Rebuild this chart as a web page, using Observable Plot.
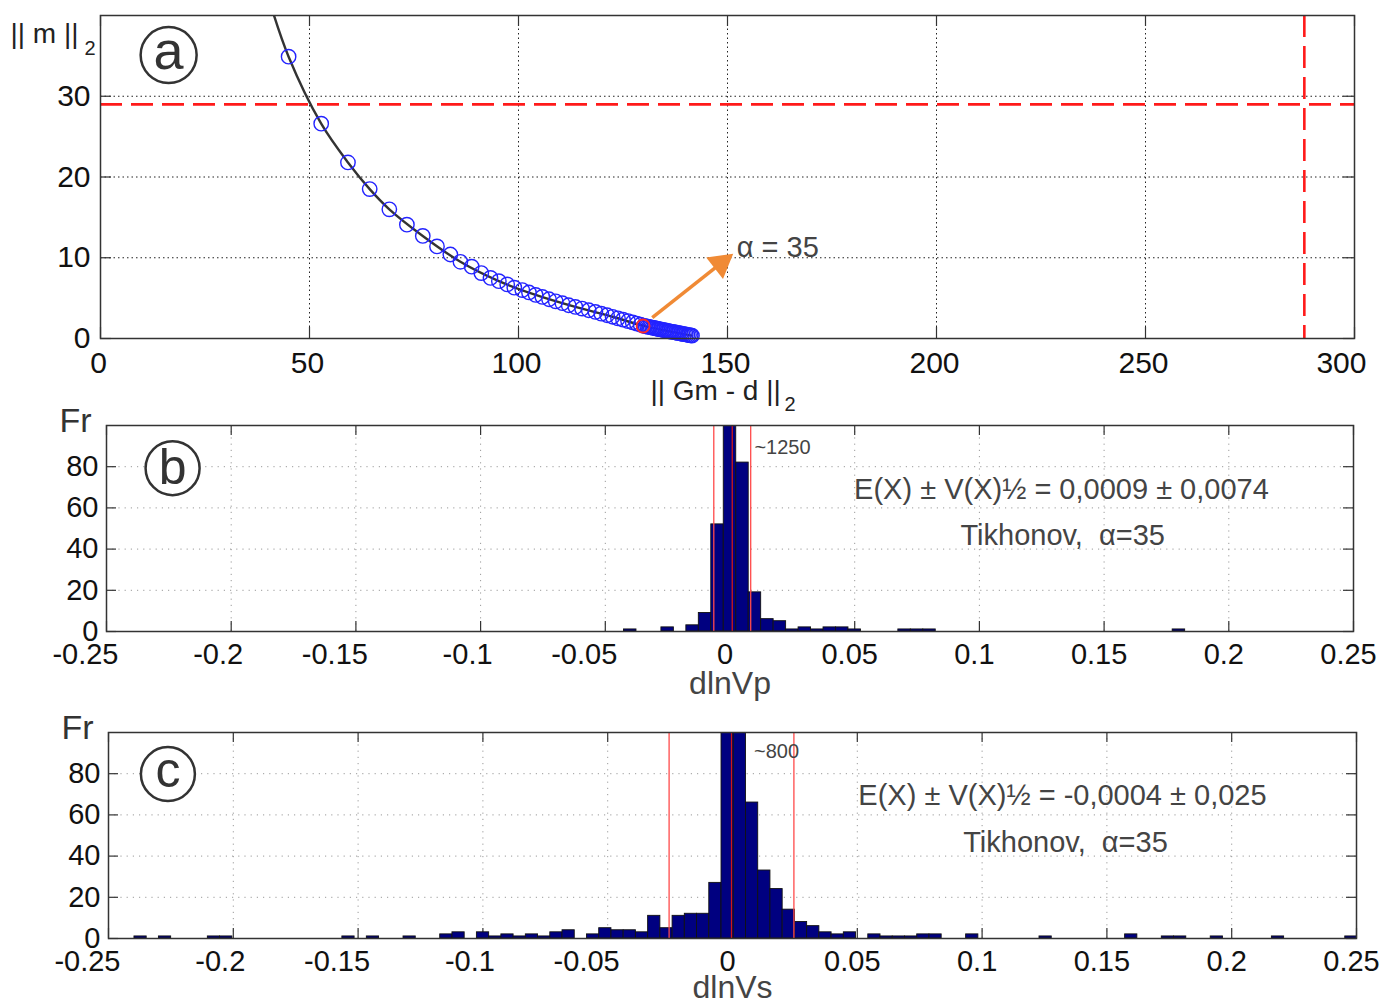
<!DOCTYPE html>
<html><head><meta charset="utf-8">
<script src="https://cdn.jsdelivr.net/npm/d3@7"></script>
<script src="https://cdn.jsdelivr.net/npm/@observablehq/plot@0.6"></script>
<style>
body{margin:0;background:#fff;}
#chart{width:1381px;height:1005px;overflow:hidden;background:#fff;}
#chart svg{display:block;overflow:visible;}
</style></head><body><div id="chart"></div>
<script>
// ---------- Panel (a): L-curve ----------
const lcurveResid = [45.0, 52.8, 59.2, 64.4, 69.1, 73.3, 77.1, 80.5, 83.7, 86.1, 88.8, 91.1, 93.3, 95.3, 97.3, 99.0, 100.9, 102.5, 104.1, 105.7, 107.3, 108.9, 110.5, 112.0, 113.6, 115.2, 116.8, 118.4, 119.8, 121.2, 122.5, 123.8, 125.0, 126.2, 127.3, 128.3, 129.2, 130.0, 130.4, 130.8, 131.2, 131.6, 132.0, 132.4, 132.8, 133.2, 133.6, 134.0, 134.4, 134.8, 135.2, 135.6, 136.0, 136.4, 136.8, 137.2, 137.6, 138.0, 138.4, 138.8, 139.2, 139.6, 140.0, 140.4, 140.8, 141.2, 141.5];
const lcurveNorm  = [34.9, 26.6, 21.8, 18.5, 16.0, 14.1, 12.7, 11.4, 10.4, 9.5, 8.9, 8.1, 7.5, 7.1, 6.7, 6.3, 6.0, 5.7, 5.4, 5.15, 4.86, 4.6, 4.37, 4.12, 3.91, 3.71, 3.5, 3.29, 3.08, 2.88, 2.69, 2.5, 2.33, 2.16, 2.0, 1.85, 1.7, 1.57, 1.52, 1.48, 1.43, 1.39, 1.34, 1.30, 1.25, 1.21, 1.16, 1.12, 1.08, 1.03, 0.99, 0.95, 0.90, 0.86, 0.82, 0.78, 0.74, 0.70, 0.66, 0.62, 0.58, 0.54, 0.50, 0.46, 0.42, 0.38, 0.35];
const curveResid = [40.6, 45.0, 52.8, 59.2, 64.4, 69.1, 77.1, 86.1, 95.3, 104.1, 113.6, 122.5, 130.0, 141.5];
const curveNorm  = [41.5, 34.9, 26.6, 21.8, 18.5, 16.0, 12.7, 9.5, 7.1, 5.4, 3.91, 2.69, 1.57, 0.35];
const chosenResid = [129.8], chosenNorm = [1.55];
const arrowStart = [132, 2.6], arrowHead = [148.4, 9.3], arrowHeadAngle = 52;
const alphaLabel = ["α = 35"], alphaLabelPos = [152.2, 11.3];
const limitNorm = [29], limitResid = [288];
const aXTicks = [0, 50, 100, 150, 200, 250, 300];
const aYTicks = [0, 10, 20, 30];

// ---------- Panel (b): dlnVp histogram ----------
const vpBinStart = [-0.0425, -0.0275, -0.0175, -0.0125, -0.0075, -0.0025, 0.0025, 0.0075, 0.0125, 0.0175, 0.0225, 0.0275, 0.0325, 0.0375, 0.0425, 0.0475, 0.0675, 0.0725, 0.0775, 0.1775];
const vpCount    = [1, 2, 3, 9, 52, 1250, 82, 19, 6, 5, 1, 2, 1, 2, 2, 1, 1, 1, 1, 1];
const vpBinWidth = 0.005;
const vpMean = 0.0009, vpStd = 0.0074;
const vpPeakLabel = ["~1250"];
const vpStatText = ["E(X) ± V(X)½ = 0,0009 ± 0,0074"];

// ---------- Panel (c): dlnVs histogram ----------
const vsBinStart = [-0.2396, -0.2298, -0.2102, -0.2053, -0.1563, -0.1465, -0.1318, -0.1171, -0.1122, -0.1024, -0.0975, -0.0926, -0.0877, -0.0828, -0.0779, -0.0730, -0.0681, -0.0583, -0.0534, -0.0485, -0.0436, -0.0387, -0.0338, -0.0289, -0.0240, -0.0191, -0.0142, -0.0093, -0.0044, 0.0005, 0.0054, 0.0103, 0.0152, 0.0201, 0.0250, 0.0299, 0.0348, 0.0397, 0.0446, 0.0544, 0.0593, 0.0642, 0.0691, 0.0740, 0.0789, 0.0936, 0.1230, 0.1573, 0.1720, 0.1769, 0.1916, 0.2161, 0.2455];
const vsCount    = [1, 1, 1, 1, 1, 1, 1, 2, 3, 3, 1, 2, 1, 2, 1, 3, 4, 2, 5, 4, 4, 3, 11, 5, 11, 12, 12, 27, 800, 260, 66, 33, 24, 14, 8, 6, 3, 2, 3, 2, 1, 1, 1, 2, 2, 2, 1, 2, 1, 1, 1, 1, 1];
const vsBinWidth = 0.0049;
const vsMean = -0.0004, vsStd = 0.025;
const vsPeakLabel = ["~800"];
const vsStatText = ["E(X) ± V(X)½ = -0,0004 ± 0,025"];
const methodText = ["Tikhonov,  α=35"];

const histXTicks = [-0.25, -0.2, -0.15, -0.1, -0.05, 0, 0.05, 0.1, 0.15, 0.2, 0.25];
const histYTicks = [0, 20, 40, 60, 80];

const FONT = "Liberation Sans, Arial, Helvetica, sans-serif";
const W = 1381;

function inwardTicks(xt, yt, pw, ph, len) {
  return [
    Plot.ruleX(xt, {insetTop: ph - len, stroke: "#333", strokeWidth: 1.2}),
    Plot.ruleX(xt, {insetBottom: ph - len, stroke: "#333", strokeWidth: 1.2}),
    Plot.ruleY(yt, {insetRight: pw - len, stroke: "#333", strokeWidth: 1.2}),
    Plot.ruleY(yt, {insetLeft: pw - len, stroke: "#333", strokeWidth: 1.2})
  ];
}
function circledLetter(letter, x, y, r, size, dy) {
  return [
    Plot.dot([0], {x: () => x, y: () => y, r, stroke: "#333", strokeWidth: 2.5, fill: "white"}),
    Plot.text([letter], {x: () => x, y: () => y, text: d => d, fontSize: size, fill: "#333", dy})
  ];
}
// x tick labels: negative labels hang their minus sign to the left of the tick
function xTickLabels(ticks, size, pad, lastEnd) {
  const neg = ticks.filter(d => d < 0);
  const rest = lastEnd ? ticks.filter(d => d >= 0).slice(0, -1) : ticks.filter(d => d >= 0);
  const marks = [
    Plot.text(neg, {x: d => d, frameAnchor: "bottom", text: d => String(d), textAnchor: "end", lineAnchor: "top", dx: 12, dy: pad, fontSize: size, fill: "#111"}),
    Plot.text(rest, {x: d => d, frameAnchor: "bottom", text: d => String(d), lineAnchor: "top", dx: lastEnd ? -2 : -5, dy: pad, fontSize: size, fill: "#111"})
  ];
  if (lastEnd) marks.push(Plot.text(ticks.slice(-1), {x: d => d, frameAnchor: "bottom", text: d => String(d), textAnchor: "end", lineAnchor: "top", dx: 12, dy: pad, fontSize: size, fill: "#111"}));
  return marks;
}

// ---------- Panel a ----------
{
  const mL = 100, mR = 27, mT = 15, mB = 72, H = 410;
  const pw = W - mL - mR, ph = H - mT - mB;
  const pts = lcurveResid.map((x, i) => ({x, y: lcurveNorm[i]}));
  const curve = curveResid.map((x, i) => ({x, y: curveNorm[i]}));
  const svg = Plot.plot({
    width: W, height: H, marginLeft: mL, marginRight: mR, marginTop: mT, marginBottom: mB,
    style: {fontFamily: FONT, fontSize: "30px", color: "#111", background: "white", overflow: "visible"},
    x: {domain: [0, 300], axis: null},
    y: {domain: [0, 40], axis: null},
    marks: [
      Plot.ruleX(aXTicks.slice(1, -1), {stroke: "#222", strokeWidth: 1, strokeDasharray: "1.5,3"}),
      Plot.ruleY(aYTicks.slice(1), {stroke: "#222", strokeWidth: 1, strokeDasharray: "1.5,3"}),
      ...xTickLabels(aXTicks, 30, 13, true),
      Plot.text(aYTicks, {y: d => d, frameAnchor: "left", text: d => String(d), textAnchor: "end", dx: -10, fontSize: 30, fill: "#111"}),
      ...inwardTicks(aXTicks, aYTicks, pw, ph, 11),
      Plot.ruleY(limitNorm, {stroke: "#ff1a1a", strokeWidth: 2.6, strokeDasharray: "22,9"}),
      Plot.ruleX(limitResid, {stroke: "#ff1a1a", strokeWidth: 2.6, strokeDasharray: "22,9"}),
      Plot.line(curve, {x: "x", y: "y", curve: "catmull-rom", stroke: "#333", strokeWidth: 2.4, clip: true}),
      Plot.dot(pts, {x: "x", y: "y", r: 7.2, stroke: "#2323ff", strokeWidth: 1.4, fill: "none"}),
      Plot.dot(chosenResid.map((x, i) => ({x, y: chosenNorm[i]})), {x: "x", y: "y", r: 6.5, stroke: "#ff2a2a", strokeWidth: 1.8, fill: "none"}),
      Plot.link([{x1: arrowStart[0], y1: arrowStart[1], x2: arrowHead[0], y2: arrowHead[1]}], {x1: "x1", y1: "y1", x2: "x2", y2: "y2", stroke: "#f08a35", strokeWidth: 3.5}),
      Plot.dot([{x: arrowHead[0], y: arrowHead[1]}], {x: "x", y: "y", symbol: "triangle2", r: 13, fill: "#f08a35", rotate: arrowHeadAngle}),
      Plot.text(alphaLabel, {x: () => alphaLabelPos[0], y: () => alphaLabelPos[1], text: d => d, textAnchor: "start", fontSize: 29, fill: "#444"}),
      ...circledLetter("a", 16.3, 35.1, 28, 54, -3),
      Plot.text(["|| m ||"], {frameAnchor: "top-left", text: d => d, textAnchor: "start", lineAnchor: "middle", dx: -90, dy: 19, fontSize: 28, fill: "#222"}),
      Plot.text(["2"], {frameAnchor: "top-left", text: d => d, textAnchor: "start", lineAnchor: "middle", dx: -16, dy: 33, fontSize: 20, fill: "#222"}),
      Plot.text(["|| Gm - d ||"], {frameAnchor: "bottom-left", text: d => d, textAnchor: "start", lineAnchor: "middle", dx: 550, dy: 53, fontSize: 28, fill: "#222"}),
      Plot.text(["2"], {frameAnchor: "bottom-left", text: d => d, textAnchor: "start", lineAnchor: "middle", dx: 684, dy: 66, fontSize: 20, fill: "#222"}),
      Plot.frame({stroke: "#333", strokeWidth: 1.5})
    ]
  });
  document.getElementById("chart").appendChild(svg);
}

// ---------- Histogram panels ----------
function histPanel(opt) {
  const {mL, mR, mT, mB, H, starts, counts, bw, mean, std, peak, peakPos, stat, statPos, methPos, letter, letterPos, xlabel, labelDy} = opt;
  const pw = W - mL - mR, ph = H - mT - mB;
  const bins = starts.map((s, i) => ({x1: s, x2: s + bw, y: counts[i]}));
  return Plot.plot({
    width: W, height: H, marginLeft: mL, marginRight: mR, marginTop: mT, marginBottom: mB,
    style: {fontFamily: FONT, fontSize: "29px", color: "#111", background: "white", overflow: "visible"},
    x: {domain: [-0.25, 0.25], axis: null},
    y: {domain: [0, 100], axis: null},
    marks: [
      Plot.ruleX(histXTicks.slice(1, -1), {stroke: "#9a9a9a", strokeWidth: 1, strokeDasharray: "1.2,5"}),
      Plot.ruleY(histYTicks.slice(1), {stroke: "#9a9a9a", strokeWidth: 1, strokeDasharray: "1.2,5"}),
      ...xTickLabels(histXTicks, 29, 12, false),
      Plot.text(histYTicks, {y: d => d, frameAnchor: "left", text: d => String(d), textAnchor: "end", dx: -8, fontSize: 29, fill: "#111"}),
      ...inwardTicks(histXTicks, histYTicks, pw, ph, 10),
      Plot.rectY(bins, {x1: "x1", x2: "x2", y: "y", fill: "#000080", stroke: "#111", strokeWidth: 0.9, clip: true}),
      Plot.ruleX([mean - std, mean + std], {stroke: "#ff4a4a", strokeWidth: 1.3}),
      Plot.ruleX([mean], {stroke: "#d01818", strokeWidth: 1.3}),
      Plot.text(peak, {x: () => peakPos[0], y: () => peakPos[1], text: d => d, textAnchor: "start", fontSize: 20, fill: "#444"}),
      Plot.text(stat, {x: () => statPos[0], y: () => statPos[1], text: d => d, fontSize: 29, fill: "#444"}),
      Plot.text(methodText, {x: () => methPos[0], y: () => methPos[1], text: d => d, fontSize: 29, fill: "#444"}),
      ...circledLetter(letter, letterPos[0], letterPos[1], 27, 50, letter === "b" ? 0 : -3),
      Plot.text(["Fr"], {frameAnchor: "top-left", text: d => d, textAnchor: "start", lineAnchor: "middle", dx: -47, dy: -4, fontSize: 34, fill: "#333"}),
      Plot.text([xlabel], {frameAnchor: "bottom", text: d => d, lineAnchor: "middle", dy: labelDy, fontSize: 32, fill: "#444"}),
      Plot.frame({stroke: "#333", strokeWidth: 1.5})
    ]
  });
}

document.getElementById("chart").appendChild(histPanel({
  mL: 106, mR: 28, mT: 15, mB: 81, H: 302,
  starts: vpBinStart, counts: vpCount, bw: vpBinWidth, mean: vpMean, std: vpStd,
  peak: vpPeakLabel, peakPos: [0.0098, 89.2],
  stat: vpStatText, statPos: [0.1329, 68.7], methPos: [0.1334, 46.4],
  letter: "b", letterPos: [-0.2235, 79.3], xlabel: "dlnVp", labelDy: 52
}));
document.getElementById("chart").appendChild(histPanel({
  mL: 108, mR: 25, mT: 20, mB: 67, H: 293,
  starts: vsBinStart, counts: vsCount, bw: vsBinWidth, mean: vsMean, std: vsStd,
  peak: vsPeakLabel, peakPos: [0.0086, 90.9],
  stat: vsStatText, statPos: [0.1322, 69.2], methPos: [0.1334, 46.4],
  letter: "c", letterPos: [-0.2262, 79.8], xlabel: "dlnVs", labelDy: 49
}));
</script></body></html>
